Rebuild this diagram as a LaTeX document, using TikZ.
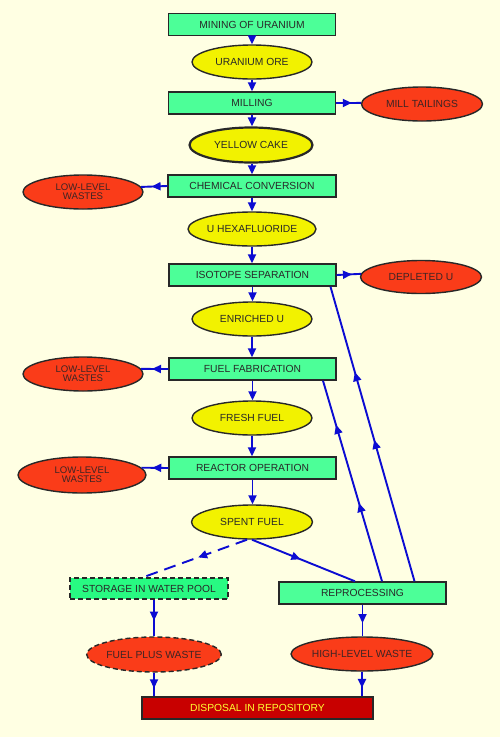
\documentclass[tikz,border=0pt]{standalone}
\usepackage{fontspec}
\setmainfont{Liberation Sans}
\usetikzlibrary{shapes.geometric,arrows.meta,decorations.markings}
\definecolor{bg}{RGB}{255,255,227}
\definecolor{boxgreen}{RGB}{76,255,152}
\definecolor{poolgreen}{RGB}{40,250,130}
\definecolor{ellyellow}{RGB}{242,242,0}
\definecolor{wastered}{RGB}{250,60,25}
\definecolor{lineblue}{RGB}{12,12,210}
\definecolor{dispred}{RGB}{200,0,0}
\definecolor{disptext}{RGB}{255,255,50}
\definecolor{ink}{RGB}{40,40,40}
\begin{document}
\begin{tikzpicture}[x=1pt,y=-1pt,
  proc/.style={rectangle, draw=ink, line width=1.4pt, fill=boxgreen,
    minimum width=167pt, minimum height=22pt, inner sep=0pt,
    font=\fontsize{10.3}{12}\selectfont, text=ink},
  prod/.style={ellipse, draw=ink, line width=1.4pt, fill=ellyellow,
    minimum width=120pt, minimum height=34pt, inner sep=0pt,
    font=\fontsize{10.3}{12}\selectfont, text=ink},
  waste/.style={ellipse, draw=ink, line width=1.4pt, fill=wastered,
    minimum width=121pt, minimum height=34pt, inner sep=0pt, align=center,
    font=\fontsize{10.3}{9}\selectfont, text=ink!90!red},
  lowlev/.style={waste, font=\fontsize{9.6}{9}\selectfont},
  conn/.style={draw=lineblue, line width=1.9pt},
  endarr/.style={-{Triangle[length=9pt,width=8pt]}},
  midarr/.style={postaction={decorate}, decoration={markings,
    mark=at position #1 with {\arrow[lineblue]{Triangle[length=9pt,width=8pt]}}}},
  twoarr/.style 2 args={postaction={decorate}, decoration={markings,
    mark=at position #1 with {\arrow[lineblue]{Triangle[length=9pt,width=8pt]}},
    mark=at position #2 with {\arrow[lineblue]{Triangle[length=9pt,width=8pt]}}}}
]
\fill[bg] (0,0) rectangle (500,737);
\useasboundingbox (0,0) rectangle (500,737);

% main column
\node[proc] (mining) at (252,24.5) {MINING OF URANIUM};
\node[prod] (ore) at (252,62) {URANIUM ORE};
\node[proc] (milling) at (252,103) {MILLING};
\node[waste] (tail) at (422,104) {MILL TAILINGS};
\node[prod, line width=2.2pt, minimum width=123pt, minimum height=35pt] (cake) at (251,145) {YELLOW CAKE};
\node[proc, minimum width=168pt] (chem) at (252,186) {CHEMICAL CONVERSION};
\node[lowlev, minimum width=120pt] (llw1) at (83,192) {LOW-LEVEL\\WASTES};
\node[prod] (hex) at (252,229) {U HEXAFLUORIDE};
\node[proc] (iso) at (252.5,275) {ISOTOPE SEPARATION};
\node[waste, minimum height=33pt] (dep) at (421,277) {DEPLETED U};
\node[prod] (enr) at (252,319) {ENRICHED U};
\node[proc] (fab) at (252.5,369) {FUEL FABRICATION};
\node[lowlev, minimum width=120pt] (llw2) at (83,374) {LOW-LEVEL\\WASTES};
\node[prod] (fresh) at (252,418) {FRESH FUEL};
\node[proc] (reac) at (252.5,468) {REACTOR OPERATION};
\node[lowlev, minimum width=128pt, minimum height=36pt] (llw3) at (82,475) {LOW-LEVEL\\WASTES};
\node[prod, minimum width=121pt] (spent) at (252,522) {SPENT FUEL};
\node[proc, dashed, dash pattern=on 5pt off 3pt, fill=poolgreen, minimum width=158pt, minimum height=21pt] (stor) at (149,588.5) {STORAGE IN WATER POOL};
\node[proc] (repr) at (362.5,593) {REPROCESSING};
\node[waste, dashed, dash pattern=on 5pt off 3pt, minimum height=35pt] (fpw) at (154,654.5) {FUEL PLUS WASTE};
\node[waste, minimum width=122pt] (hlw) at (362,654) {HIGH-LEVEL WASTE};
\node[proc, fill=dispred, text=disptext, minimum width=231pt] (disp) at (257.5,708) {DISPOSAL IN REPOSITORY};

% vertical main flow
\draw[conn, endarr] (mining.south) -- (ore.north);
\draw[conn, endarr] (ore.south) -- (milling.north);
\draw[conn, endarr] (milling.south) -- (milling.south |- cake.north);
\draw[conn, endarr] (milling.south |- cake.south) -- (chem.north);
\draw[conn, endarr] (chem.south) -- (hex.north);
\draw[conn, endarr] (hex.south) -- (hex.south |- iso.north);
\draw[conn, endarr] (iso.south) -- (iso.south |- enr.north);
\draw[conn, endarr] (enr.south) -- (enr.south |- fab.north);
\draw[conn, endarr] (fab.south) -- (fab.south |- fresh.north);
\draw[conn, endarr] (fresh.south) -- (fresh.south |- reac.north);
\draw[conn, endarr] (reac.south) -- (reac.south |- spent.north);

% side wastes
\draw[conn, midarr=0.63] (milling.east) -- (tail.179);
\draw[conn, midarr=0.63] (iso.east) -- (dep.177);
\draw[conn, midarr=0.6] (chem.west) -- (llw1.5);
\draw[conn, midarr=0.6] (fab.west) -- (llw2.5);
\draw[conn, midarr=0.6] (reac.west) -- (llw3.7);

% spent fuel branches
\draw[conn, dash pattern=on 12pt off 7pt, midarr=0.47] ([xshift=-5pt]spent.south) -- ([xshift=-6pt]stor.north);
\draw[conn, midarr=0.47] (spent.south) -- ([xshift=-7.5pt]repr.north);

% recycle lines
\draw[conn, twoarr={0.39}{0.78}] ([xshift=19.5pt]repr.north) -- ([xshift=70.5pt]fab.south);
\draw[conn, twoarr={0.48}{0.71}] ([xshift=52pt]repr.north) -- ([xshift=78pt]iso.south);

% to disposal
\draw[conn, midarr=0.57] (stor.south -| fpw.north) -- (fpw.north);
\draw[conn, midarr=0.66] (fpw.south) -- (fpw.south |- disp.north);
\draw[conn, midarr=0.58] (repr.south) -- (repr.south |- hlw.north);
\draw[conn, midarr=0.66] (hlw.south) -- (hlw.south |- disp.north);
\end{tikzpicture}
\end{document}
